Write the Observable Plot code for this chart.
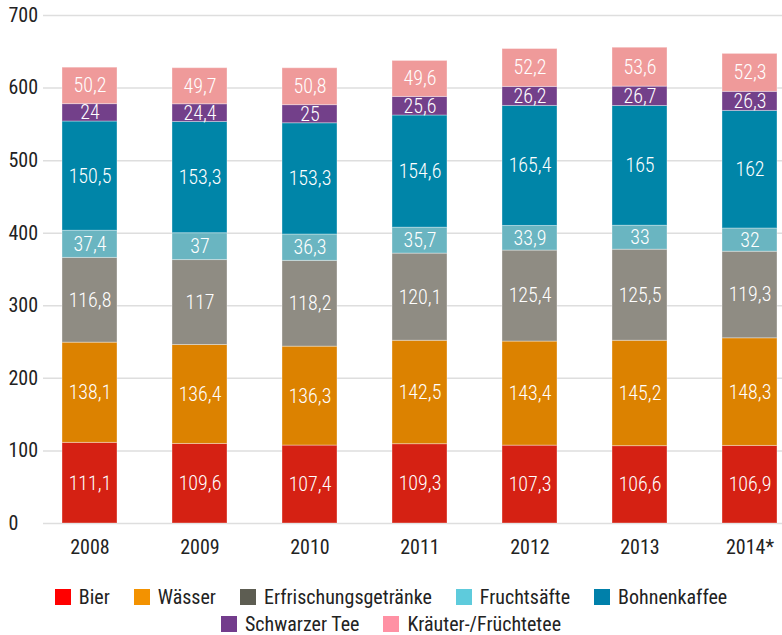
<!DOCTYPE html>
<html>
<head>
<meta charset="utf-8">
<script src="https://cdn.jsdelivr.net/npm/d3@7"></script>
<script src="https://cdn.jsdelivr.net/npm/@observablehq/plot@0.6"></script>
<style>
  html, body { margin: 0; padding: 0; background: #fff; }
  body { width: 782px; font-family: "Roboto", sans-serif; font-stretch: condensed; }
  svg text { font-stretch: condensed; }
  #legend { width: 782px; font-size: 20px; color: #222; margin-top: 13px; font-stretch: condensed; }
  .row { display: flex; justify-content: center; gap: 24px; height: 27px; align-items: center; }
  .item { display: flex; align-items: center; gap: 8px; }
  .sw { width: 16px; height: 16px; display: inline-block; }
</style>
</head>
<body>
<div id="chart"></div>
<div id="legend"></div>
<script>
const years = ["2008", "2009", "2010", "2011", "2012", "2013", "2014*"];
const seriesNames = ["Bier", "Wässer", "Erfrischungsgetränke", "Fruchtsäfte", "Bohnenkaffee", "Schwarzer Tee", "Kräuter-/Früchtetee"];
const bier = [111.1, 109.6, 107.4, 109.3, 107.3, 106.6, 106.9];
const waesser = [138.1, 136.4, 136.3, 142.5, 143.4, 145.2, 148.3];
const erfrischung = [116.8, 117, 118.2, 120.1, 125.4, 125.5, 119.3];
const fruchtsaefte = [37.4, 37, 36.3, 35.7, 33.9, 33, 32];
const bohnenkaffee = [150.5, 153.3, 153.3, 154.6, 165.4, 165, 162];
const schwarzerTee = [24, 24.4, 25, 25.6, 26.2, 26.7, 26.3];
const kraeuter = [50.2, 49.7, 50.8, 49.6, 52.2, 53.6, 52.3];
const yTicks = [0, 100, 200, 300, 400, 500, 600, 700];

const barColors = ["#d52113", "#dc8200", "#8f8c83", "#6ab5c1", "#0085a8", "#73408a", "#ef9a9a"];
const legendColors = ["#ff0000", "#f39200", "#5d5d52", "#5ecbdc", "#0080aa", "#733c8c", "#ff91a4"];

const allSeries = [bier, waesser, erfrischung, fruchtsaefte, bohnenkaffee, schwarzerTee, kraeuter];
const data = [];
allSeries.forEach((vals, si) => {
  vals.forEach((v, yi) => data.push({year: years[yi], series: seriesNames[si], value: v}));
});
const fmt = v => String(v).replace(".", ",");
const font = '"Roboto", sans-serif';

const chart = Plot.plot({
  width: 782,
  height: 570,
  marginTop: 15,
  marginBottom: 47,
  marginLeft: 43,
  marginRight: 0,
  style: {fontFamily: font, fontSize: "20px", color: "#222", background: "#fff"},
  x: {type: "band", domain: years, range: [60, 778], paddingInner: 0.5, paddingOuter: 0, label: null},
  y: {domain: [0, 700], label: null},
  color: {domain: seriesNames, range: barColors},
  marks: [
    Plot.ruleY(yTicks, {stroke: "#dedede", strokeWidth: 1.5}),
    Plot.barY(data, Plot.stackY({x: "year", y: "value", fill: "series", order: null, stroke: "#fff", strokeOpacity: 0.35, strokeWidth: 1, inset: 0})),
    Plot.text(data, Plot.stackY({x: "year", y: "value", z: "series", order: null, text: d => fmt(d.value), fill: "#fff", fontSize: 20, fontWeight: 300})),
    Plot.axisY(yTicks, {tickSize: 0, tickPadding: 3, textAnchor: "start", dx: -32, fontSize: 20, fill: "#222"}),
    Plot.axisX({tickSize: 0, tickPadding: 16, fontSize: 20, fill: "#222"})
  ]
});
document.getElementById("chart").appendChild(chart);

const legend = document.getElementById("legend");
const rows = [[0, 1, 2, 3, 4], [5, 6]];
rows.forEach(r => {
  const row = document.createElement("div");
  row.className = "row";
  r.forEach(i => {
    const item = document.createElement("div");
    item.className = "item";
    const sw = document.createElement("span");
    sw.className = "sw";
    sw.style.background = legendColors[i];
    const t = document.createElement("span");
    t.textContent = seriesNames[i];
    item.appendChild(sw);
    item.appendChild(t);
    row.appendChild(item);
  });
  legend.appendChild(row);
});
</script>
</body>
</html>
